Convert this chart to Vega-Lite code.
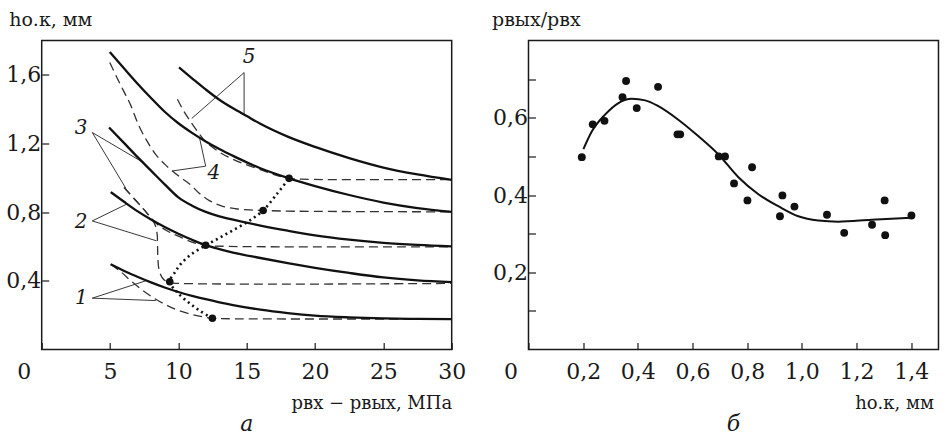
{
  "$schema": "https://vega.github.io/schema/vega-lite/v6.json",
  "background": "white",
  "padding": {"left": 4.7, "top": 9.5, "right": 0, "bottom": 0},
  "spacing": 23.8,
  "config": {
    "view": {"stroke": "#1a1a1a", "strokeWidth": 1.5},
    "font": "DejaVu Serif",
    "axis": {
      "grid": false, "domain": false,
      "labelFont": "DejaVu Serif", "labelFontSize": 22, "labelColor": "#1a1a1a",
      "tickColor": "#1a1a1a", "tickWidth": 1.2,
      "labelFlush": false, "labelOverlap": false, "labelBound": false,
      "titleFont": "DejaVu Serif", "titleFontWeight": "normal", "titleColor": "#1a1a1a", "titleFontSize": 19
    },
    "title": {"font": "DejaVu Serif", "fontSize": 22, "fontStyle": "italic", "fontWeight": "normal", "color": "#1a1a1a"}
  },
  "datasets": {
    "solid": [
      {"s":"5","x":10.05,"y":1.643},{"s":"5","x":11,"y":1.58},{"s":"5","x":12,"y":1.515},{"s":"5","x":13,"y":1.455},{"s":"5","x":14,"y":1.405},{"s":"5","x":15,"y":1.36},{"s":"5","x":16,"y":1.315},{"s":"5","x":18,"y":1.24},{"s":"5","x":20,"y":1.18},{"s":"5","x":22.5,"y":1.115},{"s":"5","x":25,"y":1.06},{"s":"5","x":27.5,"y":1.02},{"s":"5","x":30,"y":0.988},
      {"s":"4","x":4.98,"y":1.733},{"s":"4","x":6,"y":1.64},{"s":"4","x":7,"y":1.55},{"s":"4","x":8,"y":1.465},{"s":"4","x":9,"y":1.385},{"s":"4","x":10,"y":1.318},{"s":"4","x":11,"y":1.262},{"s":"4","x":12,"y":1.212},{"s":"4","x":13,"y":1.168},{"s":"4","x":14,"y":1.128},{"s":"4","x":15,"y":1.09},{"s":"4","x":16,"y":1.056},{"s":"4","x":18,"y":1.0},{"s":"4","x":20,"y":0.952},{"s":"4","x":22.5,"y":0.9},{"s":"4","x":25,"y":0.856},{"s":"4","x":27.5,"y":0.824},{"s":"4","x":30,"y":0.802},
      {"s":"3","x":4.93,"y":1.293},{"s":"3","x":6,"y":1.205},{"s":"3","x":7,"y":1.122},{"s":"3","x":8,"y":1.042},{"s":"3","x":9,"y":0.962},{"s":"3","x":10,"y":0.886},{"s":"3","x":11,"y":0.838},{"s":"3","x":12,"y":0.802},{"s":"3","x":13,"y":0.776},{"s":"3","x":14,"y":0.756},{"s":"3","x":16,"y":0.722},{"s":"3","x":18,"y":0.692},{"s":"3","x":20,"y":0.665},{"s":"3","x":22.5,"y":0.64},{"s":"3","x":25,"y":0.621},{"s":"3","x":27.5,"y":0.609},{"s":"3","x":30,"y":0.601},
      {"s":"2","x":5.05,"y":0.917},{"s":"2","x":6,"y":0.862},{"s":"2","x":7,"y":0.806},{"s":"2","x":8,"y":0.757},{"s":"2","x":9,"y":0.713},{"s":"2","x":10,"y":0.674},{"s":"2","x":11,"y":0.639},{"s":"2","x":12,"y":0.608},{"s":"2","x":13,"y":0.585},{"s":"2","x":14,"y":0.565},{"s":"2","x":16,"y":0.533},{"s":"2","x":18,"y":0.503},{"s":"2","x":20,"y":0.476},{"s":"2","x":22.5,"y":0.446},{"s":"2","x":25,"y":0.42},{"s":"2","x":27.5,"y":0.403},{"s":"2","x":30,"y":0.393},
      {"s":"1","x":5.05,"y":0.497},{"s":"1","x":6,"y":0.459},{"s":"1","x":7,"y":0.424},{"s":"1","x":8,"y":0.391},{"s":"1","x":9,"y":0.361},{"s":"1","x":10,"y":0.335},{"s":"1","x":11,"y":0.313},{"s":"1","x":12,"y":0.293},{"s":"1","x":13,"y":0.275},{"s":"1","x":14,"y":0.259},{"s":"1","x":16,"y":0.232},{"s":"1","x":18,"y":0.212},{"s":"1","x":20,"y":0.197},{"s":"1","x":22.5,"y":0.187},{"s":"1","x":25,"y":0.181},{"s":"1","x":27.5,"y":0.178},{"s":"1","x":30,"y":0.177}
    ],
    "dashed": [
      {"s":"5","i":1,"x":9.93,"y":1.458},{"s":"5","i":2,"x":10.35,"y":1.395},{"s":"5","i":3,"x":10.78,"y":1.341},{"s":"5","i":4,"x":11.4,"y":1.27},{"s":"5","i":5,"x":12.0,"y":1.21},{"s":"5","i":6,"x":13.0,"y":1.15},{"s":"5","i":7,"x":14.0,"y":1.108},{"s":"5","i":8,"x":15.2,"y":1.07},{"s":"5","i":9,"x":16.4,"y":1.036},{"s":"5","i":10,"x":17.3,"y":1.012},{"s":"5","i":11,"x":18.1,"y":0.997},{"s":"5","i":12,"x":19,"y":0.992},{"s":"5","i":13,"x":30,"y":0.99},
      {"s":"4","i":1,"x":4.98,"y":1.672},{"s":"4","i":2,"x":5.5,"y":1.585},{"s":"4","i":3,"x":6,"y":1.505},{"s":"4","i":4,"x":6.5,"y":1.425},{"s":"4","i":5,"x":7.1,"y":1.305},{"s":"4","i":6,"x":7.7,"y":1.215},{"s":"4","i":7,"x":8.35,"y":1.135},{"s":"4","i":8,"x":9,"y":1.08},{"s":"4","i":9,"x":9.56,"y":1.04},{"s":"4","i":10,"x":10.2,"y":1.0},{"s":"4","i":11,"x":10.8,"y":0.966},{"s":"4","i":12,"x":11.5,"y":0.912},{"s":"4","i":13,"x":12.3,"y":0.866},{"s":"4","i":14,"x":13.2,"y":0.835},{"s":"4","i":15,"x":14.2,"y":0.82},{"s":"4","i":16,"x":15.2,"y":0.813},{"s":"4","i":17,"x":16.2,"y":0.81},{"s":"4","i":18,"x":18,"y":0.806},{"s":"4","i":19,"x":30,"y":0.802},
      {"s":"3","i":1,"x":6.03,"y":0.944},{"s":"3","i":2,"x":6.8,"y":0.875},{"s":"3","i":3,"x":7.49,"y":0.815},{"s":"3","i":4,"x":7.95,"y":0.77},{"s":"3","i":5,"x":8.6,"y":0.72},{"s":"3","i":6,"x":9.3,"y":0.686},{"s":"3","i":7,"x":10.0,"y":0.66},{"s":"3","i":8,"x":11.0,"y":0.626},{"s":"3","i":9,"x":12.0,"y":0.607},{"s":"3","i":10,"x":13.5,"y":0.601},{"s":"3","i":11,"x":30,"y":0.598},
      {"s":"2","i":1,"x":6.03,"y":0.944},{"s":"2","i":2,"x":6.8,"y":0.875},{"s":"2","i":3,"x":7.49,"y":0.815},{"s":"2","i":4,"x":7.95,"y":0.77},{"s":"2","i":5,"x":8.3,"y":0.725},{"s":"2","i":6,"x":8.45,"y":0.67},{"s":"2","i":7,"x":8.48,"y":0.6},{"s":"2","i":8,"x":8.5,"y":0.53},{"s":"2","i":9,"x":8.6,"y":0.46},{"s":"2","i":10,"x":8.85,"y":0.415},{"s":"2","i":11,"x":9.2,"y":0.393},{"s":"2","i":12,"x":9.6,"y":0.387},{"s":"2","i":13,"x":30,"y":0.385},
      {"s":"1","i":1,"x":5.05,"y":0.497},{"s":"1","i":2,"x":5.8,"y":0.452},{"s":"1","i":3,"x":6.63,"y":0.393},{"s":"1","i":4,"x":7.5,"y":0.338},{"s":"1","i":5,"x":8.35,"y":0.293},{"s":"1","i":6,"x":9.2,"y":0.256},{"s":"1","i":7,"x":10.05,"y":0.226},{"s":"1","i":8,"x":11.27,"y":0.199},{"s":"1","i":9,"x":12.49,"y":0.182},{"s":"1","i":10,"x":14,"y":0.179},{"s":"1","i":11,"x":30,"y":0.178}
    ],
    "dotted": [
      {"i":1,"x":12.49,"y":0.182},{"i":2,"x":11.6,"y":0.224},{"i":3,"x":10.78,"y":0.272},{"i":4,"x":9.93,"y":0.332},{"i":5,"x":9.37,"y":0.395},{"i":6,"x":9.75,"y":0.45},{"i":7,"x":10.2,"y":0.5},{"i":8,"x":10.9,"y":0.552},{"i":9,"x":12.0,"y":0.607},{"i":10,"x":13.0,"y":0.65},{"i":11,"x":14.0,"y":0.695},{"i":12,"x":15.1,"y":0.745},{"i":13,"x":16.2,"y":0.81},{"i":14,"x":17.2,"y":0.905},{"i":15,"x":18.1,"y":0.997}
    ],
    "dots": [
      {"x":12.49,"y":0.182},{"x":9.37,"y":0.395},{"x":12.0,"y":0.607},{"x":16.2,"y":0.81},{"x":18.1,"y":0.997}
    ],
    "leaders": [
      {"g":"1a","x":3.7,"y":0.299},{"g":"1a","x":7.61,"y":0.4},
      {"g":"1b","x":3.7,"y":0.299},{"g":"1b","x":8.35,"y":0.285},
      {"g":"2a","x":3.7,"y":0.749},{"g":"2a","x":6.2,"y":0.846},
      {"g":"2b","x":3.7,"y":0.749},{"g":"2b","x":8.4,"y":0.633},
      {"g":"3a","x":3.7,"y":1.264},{"g":"3a","x":7.37,"y":1.092},
      {"g":"3b","x":3.7,"y":1.264},{"g":"3b","x":6.15,"y":0.94},
      {"g":"4a","x":12.0,"y":1.068},{"g":"4a","x":11.55,"y":1.232},
      {"g":"4b","x":12.0,"y":1.068},{"g":"4b","x":9.56,"y":1.04},
      {"g":"5a","x":14.81,"y":1.613},{"g":"5a","x":14.81,"y":1.37},
      {"g":"5b","x":14.81,"y":1.613},{"g":"5b","x":10.98,"y":1.346}
    ],
    "labels": [
      {"t":"1","x":2.9,"y":0.3},{"t":"2","x":2.89,"y":0.745},{"t":"3","x":2.89,"y":1.288},{"t":"4","x":12.6,"y":1.027},{"t":"5","x":15.18,"y":1.705}
    ],
    "pts": [
      {"x":0.195,"y":0.498},{"x":0.235,"y":0.583},{"x":0.278,"y":0.592},{"x":0.344,"y":0.653},{"x":0.357,"y":0.695},{"x":0.396,"y":0.625},{"x":0.474,"y":0.68},{"x":0.545,"y":0.557},{"x":0.555,"y":0.557},{"x":0.696,"y":0.5},{"x":0.719,"y":0.5},{"x":0.752,"y":0.43},{"x":0.818,"y":0.472},{"x":0.801,"y":0.386},{"x":0.929,"y":0.399},{"x":0.92,"y":0.345},{"x":0.973,"y":0.37},{"x":1.092,"y":0.349},{"x":1.155,"y":0.302},{"x":1.257,"y":0.323},{"x":1.303,"y":0.386},{"x":1.305,"y":0.296},{"x":1.401,"y":0.347}
    ],
    "fit": [
      {"x":0.201,"y":0.519},{"x":0.232,"y":0.565},{"x":0.28,"y":0.608},{"x":0.329,"y":0.638},{"x":0.378,"y":0.649},{"x":0.427,"y":0.645},{"x":0.475,"y":0.63},{"x":0.548,"y":0.595},{"x":0.622,"y":0.552},{"x":0.695,"y":0.505},{"x":0.768,"y":0.446},{"x":0.841,"y":0.402},{"x":0.914,"y":0.371},{"x":0.987,"y":0.345},{"x":1.06,"y":0.334},{"x":1.133,"y":0.331},{"x":1.255,"y":0.336},{"x":1.4,"y":0.341}
    ]
  },
  "hconcat": [
    {
      "width": 410, "height": 309,
      "title": {"text": "а", "orient": "bottom", "anchor": "middle", "frame": "group", "offset": 2},
      "encoding": {
        "x": {"field": "x", "type": "quantitative",
          "scale": {"domain": [0, 30], "nice": false, "zero": false},
          "axis": {"values": [0, 5, 10, 15, 20, 25, 30], "format": "d", "tickSize": -7,
            "labelPadding": 19, "labelBaseline": "top",
            "labelOffset": {"condition": {"test": "datum.value == 0", "value": -18}, "value": 0},
            "title": "pвх − pвых, МПа", "titleFontSize": 18, "titleX": 410, "titleY": 54, "titleAlign": "right", "titleBaseline": "middle"}},
        "y": {"field": "y", "type": "quantitative",
          "scale": {"domain": [0, 1.8], "nice": false, "zero": false},
          "axis": {"values": [0.4, 0.8, 1.2, 1.6], "tickSize": -7, "labelPadding": 8,
            "labelExpr": "replace(format(datum.value, '.1f'), '.', ',')",
            "title": "hо.к, мм", "titleAngle": 0, "titleX": -33, "titleY": -21, "titleAlign": "left", "titleBaseline": "middle"}}
      },
      "layer": [
        {"data": {"name": "leaders"}, "mark": {"type": "line", "color": "#222", "strokeWidth": 0.9}, "encoding": {"detail": {"field": "g"}}},
        {"data": {"name": "dashed"}, "mark": {"type": "line", "interpolate": "catmull-rom", "color": "#333", "strokeWidth": 1.3, "strokeDash": [9, 5]}, "encoding": {"detail": {"field": "s"}, "order": {"field": "i"}}},
        {"data": {"name": "solid"}, "mark": {"type": "line", "interpolate": "monotone", "color": "#111", "strokeWidth": 2.3}, "encoding": {"detail": {"field": "s"}}},
        {"data": {"name": "dotted"}, "mark": {"type": "line", "interpolate": "catmull-rom", "color": "#111", "strokeWidth": 2.6, "strokeDash": [2, 3.5], "strokeCap": "butt"}, "encoding": {"order": {"field": "i"}}},
        {"data": {"name": "dots"}, "mark": {"type": "point", "filled": true, "color": "#111", "opacity": 1, "size": 58}},
        {"data": {"name": "labels"}, "mark": {"type": "text", "font": "DejaVu Serif", "fontStyle": "italic", "fontSize": 20, "color": "#1a1a1a", "align": "center", "baseline": "middle"}, "encoding": {"text": {"field": "t"}}}
      ]
    },
    {
      "width": 410, "height": 309,
      "title": {"text": "б", "orient": "bottom", "anchor": "middle", "frame": "group", "offset": 2},
      "encoding": {
        "x": {"field": "x", "type": "quantitative",
          "scale": {"domain": [0, 1.5], "nice": false, "zero": false},
          "axis": {"values": [0, 0.2, 0.4, 0.6, 0.8, 1.0, 1.2, 1.4], "tickSize": -7,
            "labelPadding": 19, "labelBaseline": "top",
            "labelExpr": "datum.value == 0 ? '0' : replace(format(datum.value, '.1f'), '.', ',')",
            "labelOffset": {"condition": {"test": "datum.value == 0", "value": -18}, "value": 0},
            "title": "hо.к, мм", "titleFontSize": 18, "titleX": 405, "titleY": 54, "titleAlign": "right", "titleBaseline": "middle"}},
        "y": {"field": "y", "type": "quantitative",
          "scale": {"domain": [0, 0.8], "nice": false, "zero": false},
          "axis": {"values": [0.1, 0.2, 0.3, 0.4, 0.5, 0.6, 0.7], "tickSize": -7, "labelPadding": 8,
            "labelExpr": "round(datum.value * 10) % 2 == 0 ? replace(format(datum.value, '.1f'), '.', ',') : ''",
            "title": "pвых/pвх", "titleAngle": 0, "titleX": -37, "titleY": -21, "titleAlign": "left", "titleBaseline": "middle"}}
      },
      "layer": [
        {"data": {"name": "fit"}, "mark": {"type": "line", "interpolate": "monotone", "color": "#111", "strokeWidth": 2}},
        {"data": {"name": "pts"}, "mark": {"type": "point", "filled": true, "color": "#111", "opacity": 1, "size": 62}}
      ]
    }
  ]
}
